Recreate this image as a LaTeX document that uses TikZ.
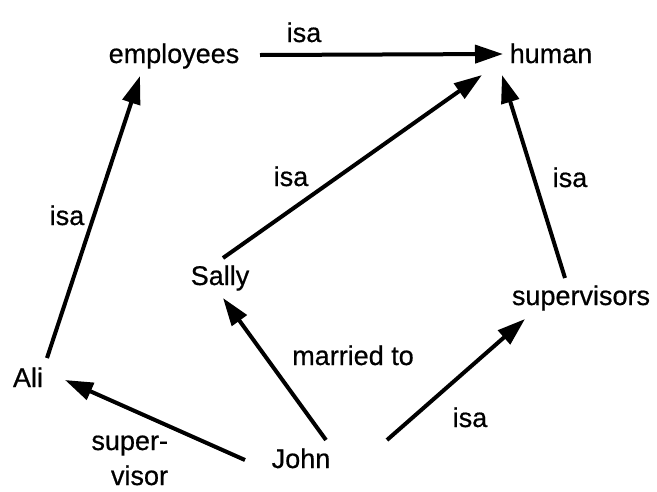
\documentclass[tikz,border=0pt]{standalone}
\usepackage{fontspec}
\setmainfont{Liberation Sans}
\newfontfamily\heavyfont{Liberation Sans}[FakeBold=0.6]
\usetikzlibrary{arrows.meta}
\begin{document}
\begin{tikzpicture}[x=1pt,y=-1pt,
  every node/.style={inner sep=0pt,outer sep=0pt,anchor=base,font=\fontsize{27}{32}\heavyfont},
  arr/.style={line width=4pt,-{Triangle[length=28pt,width=18pt]}},
  lbl/.style={}]
\useasboundingbox (0,0) rectangle (657,491);
% concepts
\node (emp) at (174,63) {employees};
\node (human) at (551,63) {human};
\node (sally) at (220,285) {Sally};
\node (sup) at (581,305) {supervisors};
\node (ali) at (28,387) {Ali};
\node (john) at (301,468) {John};
% links
\draw[arr] ([shift={(86,-8)}]emp.base) -- ([shift={(-48,-9)}]human.base);
\draw[arr] ([shift={(19,-29)}]ali.base) -- ([shift={(-34,13)}]emp.base);
\draw[arr] ([shift={(3,-27)}]sally.base) -- ([shift={(-69,12)}]human.base);
\draw[arr] ([shift={(-16,-27)}]sup.base) -- ([shift={(-49,12)}]human.base);
\draw[arr] ([shift={(25,-28)}]john.base) -- ([shift={(3,13)}]sally.base);
\draw[arr] ([shift={(86,-28)}]john.base) -- ([shift={(-56,14)}]sup.base);
\draw[arr] ([shift={(-56,-8)}]john.base) -- ([shift={(37,-7)}]ali.base);
% labels
\node[lbl] (l1) at (304,42) {isa};
\node[lbl] (l2) at (67,225) {isa};
\node[lbl] (l3) at (291,186) {isa};
\node[lbl] (l4) at (570,187) {isa};
\node[lbl] (l5) at (353,365) {married to};
\node[lbl] (l6) at (470,427) {isa};
\node[lbl,anchor=base east] (l7a) at (168,450) {super-};
\node[lbl,anchor=base east] (l7b) at (168,485) {visor};
\end{tikzpicture}
\end{document}
